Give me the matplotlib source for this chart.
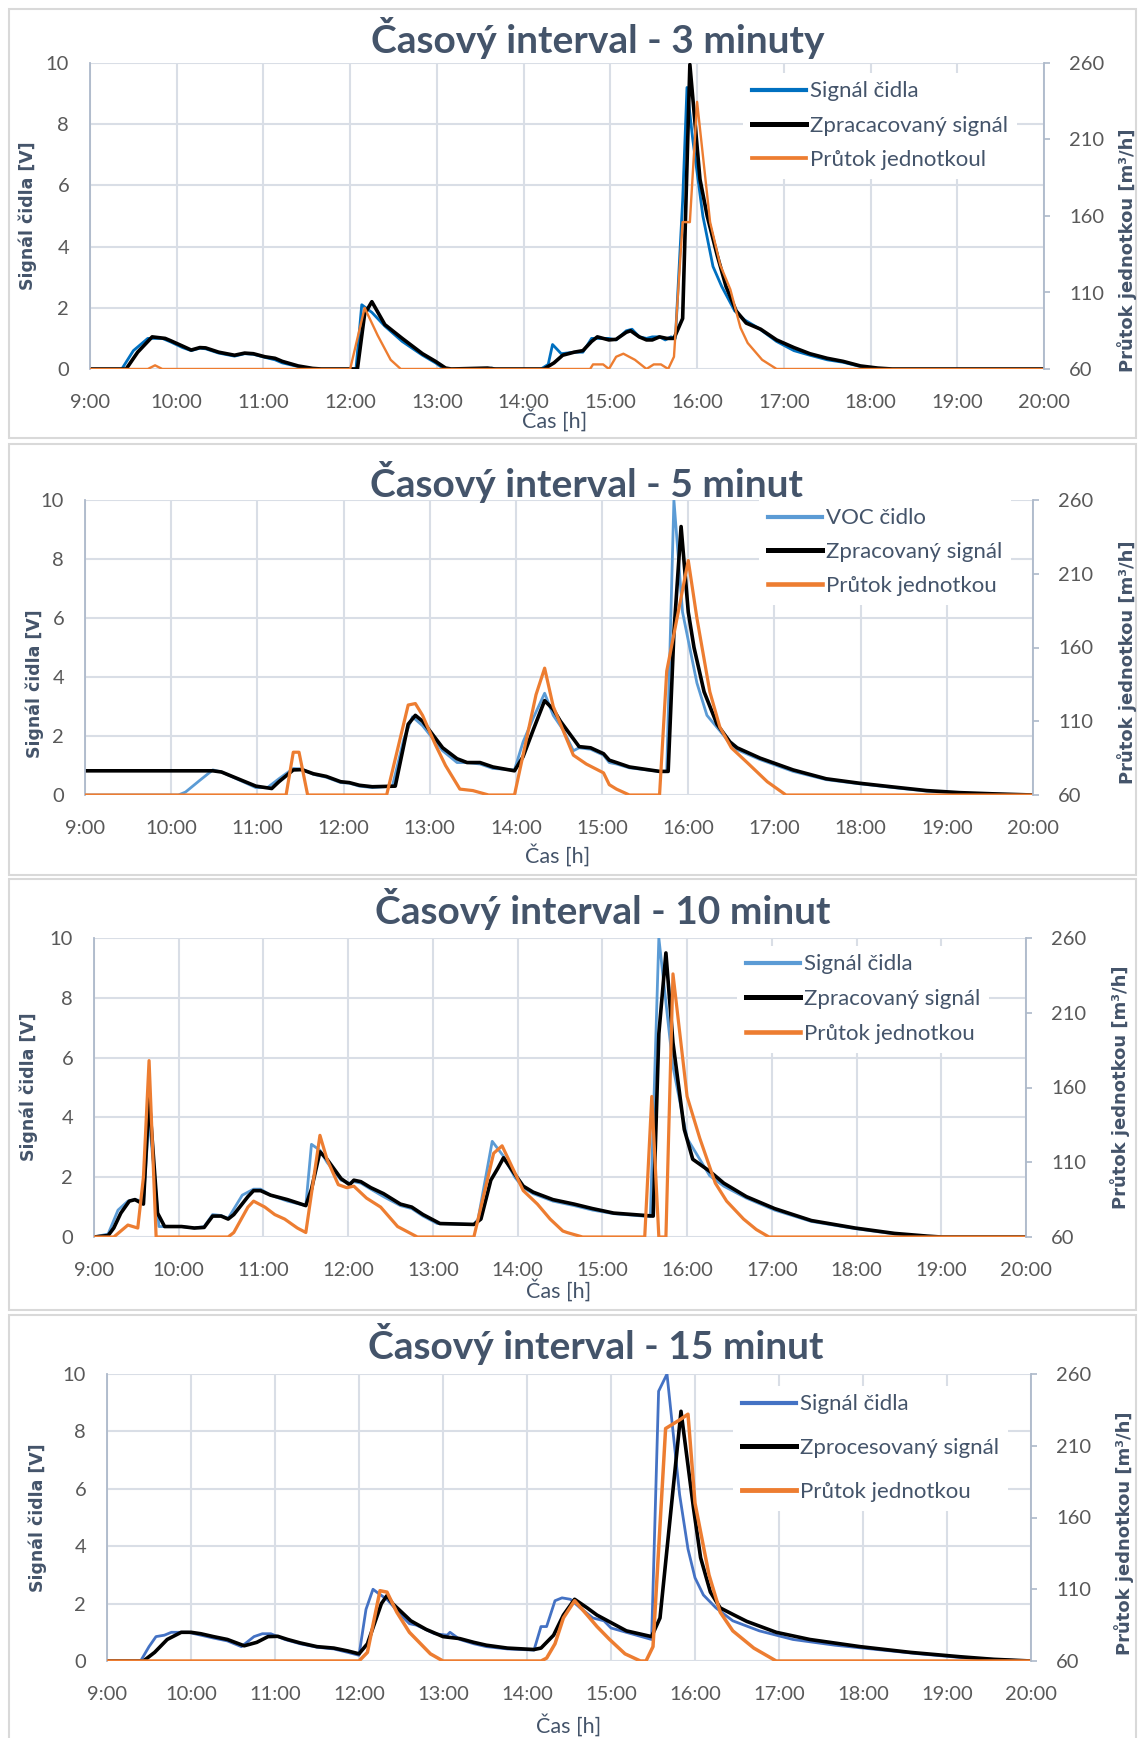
import matplotlib
matplotlib.use("Agg")
import matplotlib.pyplot as plt
from matplotlib.patches import Rectangle

plt.rcParams['font.family'] = ['Lato', 'DejaVu Sans']

# (time, value) pairs; sensor / processed signal in V, flow in m3/h
p1_sensor = [("9:00", 0), ("9:22", 0), ("9:30", 0.6), ("9:40", 1.0), ("9:50", 1.0), ("9:56", 0.88),
             ("10:04", 0.7), ("10:10", 0.6), ("10:16", 0.68), ("10:20", 0.66), ("10:29", 0.52),
             ("10:40", 0.42), ("10:47", 0.5), ("10:53", 0.48), ("11:01", 0.38), ("11:08", 0.3),
             ("11:13", 0.2), ("11:24", 0.08), ("11:34", 0), ("12:04", 0), ("12:08", 2.1),
             ("12:15", 1.85), ("12:24", 1.4), ("12:36", 0.9), ("12:50", 0.45), ("12:59", 0.2),
             ("13:05", 0), ("13:35", 0), ("13:38", 0.03), ("13:41", 0), ("14:12", 0), ("14:17", 0.15),
             ("14:20", 0.8), ("14:26", 0.5), ("14:35", 0.55), ("14:41", 0.55), ("14:47", 1.0),
             ("14:53", 1.0), ("14:59", 1.0), ("15:04", 0.95), ("15:11", 1.25), ("15:15", 1.3),
             ("15:20", 1.05), ("15:25", 1.0), ("15:29", 1.05), ("15:34", 1.05), ("15:38", 0.95),
             ("15:42", 1.05), ("15:45", 1.0), ("15:50", 5.5), ("15:53", 9.2), ("15:57", 7.5),
             ("16:04", 5.0), ("16:11", 3.35), ("16:17", 2.7), ("16:26", 1.9), ("16:33", 1.6),
             ("16:42", 1.35), ("16:55", 0.9), ("17:07", 0.6), ("17:18", 0.45), ("17:30", 0.3),
             ("17:41", 0.22), ("17:53", 0.08), ("18:05", 0.02), ("18:15", 0), ("20:00", 0)]
p1_proc = [("9:00", 0), ("9:25", 0), ("9:33", 0.55), ("9:43", 1.05), ("9:52", 1.0), ("9:56", 0.92),
           ("10:04", 0.75), ("10:10", 0.62), ("10:16", 0.7), ("10:20", 0.69), ("10:29", 0.55),
           ("10:40", 0.45), ("10:47", 0.52), ("10:53", 0.5), ("11:01", 0.4), ("11:08", 0.35),
           ("11:13", 0.25), ("11:24", 0.1), ("11:34", 0.02), ("11:40", 0), ("12:05", 0),
           ("12:10", 1.8), ("12:15", 2.2), ("12:24", 1.45), ("12:36", 1.0), ("12:50", 0.5),
           ("12:59", 0.25), ("13:06", 0.03), ("13:10", 0), ("13:35", 0.03), ("13:40", 0),
           ("14:14", 0), ("14:21", 0.2), ("14:27", 0.45), ("14:35", 0.55), ("14:41", 0.6),
           ("14:47", 0.9), ("14:51", 1.05), ("14:59", 0.95), ("15:04", 0.97), ("15:11", 1.2),
           ("15:14", 1.25), ("15:20", 1.05), ("15:25", 0.95), ("15:29", 0.95), ("15:34", 1.05),
           ("15:39", 1.0), ("15:44", 1.0), ("15:50", 1.65), ("15:55", 9.95), ("16:02", 6.2),
           ("16:07", 5.0), ("16:14", 3.7), ("16:20", 2.7), ("16:27", 1.9), ("16:34", 1.5),
           ("16:44", 1.3), ("16:55", 0.95), ("17:07", 0.7), ("17:18", 0.5), ("17:30", 0.35),
           ("17:41", 0.25), ("17:53", 0.1), ("18:05", 0.03), ("18:15", 0), ("20:00", 0)]
p1_flow = [("9:00", 60), ("9:40", 60), ("9:45", 62.4), ("9:50", 60), ("12:00", 60), ("12:10", 100),
           ("12:19", 82), ("12:28", 66), ("12:35", 60), ("14:46", 60), ("14:48", 63), ("14:55", 63),
           ("14:59", 60), ("15:04", 68), ("15:09", 70), ("15:17", 66), ("15:25", 60), ("15:30", 63),
           ("15:35", 63), ("15:40", 60), ("15:44", 68), ("15:50", 156), ("15:55", 156),
           ("16:00", 234.6), ("16:09", 156), ("16:16", 128), ("16:23", 112), ("16:30", 87),
           ("16:35", 77), ("16:45", 66), ("16:55", 60), ("20:00", 60)]

p2_sensor = [("9:00", 0), ("10:05", 0), ("10:10", 0.1), ("10:20", 0.5), ("10:29", 0.85), ("10:35", 0.78),
             ("10:59", 0.25), ("11:07", 0.25), ("11:15", 0.55), ("11:25", 0.9), ("11:31", 0.88),
             ("11:39", 0.7), ("11:48", 0.6), ("11:58", 0.42), ("12:04", 0.4), ("12:11", 0.3),
             ("12:20", 0.25), ("12:34", 0.3), ("12:42", 1.9), ("12:48", 2.65), ("12:55", 2.35),
             ("13:09", 1.5), ("13:19", 1.1), ("13:26", 1.1), ("13:35", 1.05), ("13:44", 0.9),
             ("13:59", 0.85), ("14:05", 1.8), ("14:12", 2.6), ("14:20", 3.45), ("14:26", 2.7),
             ("14:33", 2.2), ("14:40", 1.5), ("14:44", 1.6), ("14:52", 1.55), ("15:01", 1.35),
             ("15:05", 1.1), ("15:10", 1.05), ("15:19", 0.92), ("15:40", 0.8), ("15:45", 0.8),
             ("15:50", 10.0), ("15:56", 6.2), ("16:06", 3.8), ("16:13", 2.7), ("16:25", 2.0),
             ("16:31", 1.6), ("16:50", 1.2), ("17:13", 0.8), ("17:36", 0.52), ("17:59", 0.38),
             ("18:23", 0.25), ("18:46", 0.13), ("19:09", 0.07), ("19:32", 0.03), ("20:00", 0)]
p2_proc = [("9:00", 0.82), ("10:29", 0.82), ("10:35", 0.78), ("10:59", 0.3), ("11:10", 0.22),
           ("11:15", 0.45), ("11:25", 0.85), ("11:31", 0.86), ("11:39", 0.72), ("11:48", 0.63),
           ("11:58", 0.45), ("12:04", 0.42), ("12:11", 0.33), ("12:20", 0.28), ("12:36", 0.3),
           ("12:45", 2.4), ("12:50", 2.7), ("12:55", 2.5), ("13:09", 1.6), ("13:19", 1.23),
           ("13:26", 1.1), ("13:35", 1.1), ("13:44", 0.95), ("13:59", 0.82), ("14:05", 1.3),
           ("14:12", 2.2), ("14:20", 3.2), ("14:26", 2.9), ("14:31", 2.5), ("14:44", 1.64),
           ("14:52", 1.6), ("15:01", 1.4), ("15:05", 1.18), ("15:10", 1.1), ("15:19", 0.95),
           ("15:40", 0.8), ("15:46", 0.8), ("15:50", 5.5), ("15:55", 9.1), ("16:00", 6.2),
           ("16:04", 5.0), ("16:11", 3.5), ("16:20", 2.4), ("16:29", 1.8), ("16:34", 1.6),
           ("16:50", 1.25), ("17:13", 0.85), ("17:36", 0.55), ("17:59", 0.4), ("18:23", 0.27),
           ("18:46", 0.15), ("19:09", 0.08), ("19:32", 0.04), ("20:00", 0)]
p2_flow = [("9:00", 60), ("11:20", 60), ("11:25", 89), ("11:29", 89), ("11:35", 60), ("12:30", 60),
           ("12:45", 121), ("12:50", 122), ("12:55", 114), ("13:04", 94), ("13:11", 80),
           ("13:21", 64), ("13:30", 63), ("13:41", 60), ("13:59", 60), ("14:14", 128),
           ("14:20", 146), ("14:26", 120), ("14:40", 87), ("14:49", 81), ("15:01", 75),
           ("15:05", 67), ("15:10", 64), ("15:19", 60), ("15:40", 60), ("15:45", 144),
           ("16:00", 219), ("16:06", 180), ("16:15", 130), ("16:22", 106), ("16:30", 92),
           ("16:41", 82), ("16:55", 69), ("17:08", 60), ("20:00", 60)]

p3_sensor = [("9:00", 0), ("9:10", 0.1), ("9:17", 0.9), ("9:24", 1.2), ("9:29", 1.25), ("9:35", 1.2),
             ("9:39", 4.0), ("9:46", 0.35), ("10:02", 0.35), ("10:11", 0.3), ("10:18", 0.35),
             ("10:24", 0.75), ("10:30", 0.72), ("10:35", 0.62), ("10:45", 1.4), ("10:53", 1.6),
             ("10:58", 1.6), ("11:05", 1.4), ("11:17", 1.2), ("11:30", 1.05), ("11:34", 3.1),
             ("11:40", 2.9), ("11:45", 2.5), ("11:55", 1.9), ("12:01", 1.8), ("12:04", 1.85),
             ("12:09", 1.8), ("12:16", 1.6), ("12:25", 1.35), ("12:37", 1.05), ("12:45", 0.95),
             ("12:53", 0.7), ("13:03", 0.45), ("13:29", 0.42), ("13:32", 0.6), ("13:42", 3.2),
             ("13:50", 2.7), ("13:58", 2.0), ("14:04", 1.65), ("14:11", 1.45), ("14:25", 1.2),
             ("14:40", 1.05), ("14:53", 0.9), ("15:08", 0.78), ("15:34", 0.68), ("15:40", 10.0),
             ("15:50", 5.7), ("16:00", 3.3), ("16:16", 2.05), ("16:26", 1.7), ("16:42", 1.3),
             ("17:02", 0.9), ("17:28", 0.52), ("17:59", 0.28), ("18:27", 0.1), ("18:50", 0.02),
             ("19:00", 0), ("20:00", 0)]
p3_proc = [("9:00", 0), ("9:10", 0.05), ("9:14", 0.3), ("9:19", 0.8), ("9:25", 1.2), ("9:29", 1.25),
           ("9:35", 1.1), ("9:39", 4.7), ("9:45", 0.8), ("9:50", 0.35), ("10:02", 0.35),
           ("10:11", 0.3), ("10:18", 0.32), ("10:24", 0.7), ("10:30", 0.7), ("10:35", 0.6),
           ("10:39", 0.75), ("10:49", 1.35), ("10:53", 1.55), ("10:58", 1.55), ("11:05", 1.4),
           ("11:17", 1.25), ("11:30", 1.05), ("11:34", 1.6), ("11:40", 2.85), ("11:45", 2.6),
           ("11:55", 1.95), ("12:01", 1.75), ("12:04", 1.9), ("12:09", 1.85), ("12:16", 1.65),
           ("12:25", 1.45), ("12:37", 1.1), ("12:45", 1.0), ("12:53", 0.75), ("13:03", 0.5),
           ("13:05", 0.45), ("13:29", 0.42), ("13:34", 0.6), ("13:41", 1.9), ("13:46", 2.3),
           ("13:50", 2.65), ("13:58", 2.1), ("14:04", 1.7), ("14:11", 1.5), ("14:25", 1.25),
           ("14:40", 1.1), ("14:53", 0.95), ("15:08", 0.8), ("15:36", 0.7), ("15:40", 6.8),
           ("15:45", 9.5), ("15:50", 6.5), ("15:58", 3.6), ("16:04", 2.6), ("16:16", 2.2),
           ("16:26", 1.8), ("16:42", 1.35), ("17:02", 0.95), ("17:28", 0.55), ("17:59", 0.3),
           ("18:27", 0.12), ("18:50", 0.03), ("19:00", 0), ("20:00", 0)]
p3_flow = [("9:00", 60), ("9:14", 60), ("9:24", 68), ("9:31", 66), ("9:35", 100), ("9:39", 178),
           ("9:44", 60), ("10:35", 60), ("10:39", 63), ("10:49", 80), ("10:53", 84), ("11:01", 80),
           ("11:08", 75), ("11:15", 72), ("11:24", 66), ("11:30", 63), ("11:40", 128),
           ("11:45", 112), ("11:53", 95), ("11:59", 93), ("12:04", 94), ("12:13", 86),
           ("12:23", 80), ("12:35", 67), ("12:49", 60), ("13:29", 60), ("13:43", 116),
           ("13:49", 121), ("14:04", 91), ("14:14", 82), ("14:23", 72), ("14:32", 64),
           ("14:35", 63), ("14:46", 60), ("15:30", 60), ("15:35", 154), ("15:40", 60),
           ("15:45", 60), ("15:50", 236), ("16:00", 154), ("16:09", 126), ("16:20", 96),
           ("16:28", 84), ("16:40", 72), ("16:49", 65), ("16:58", 60), ("20:00", 60)]

p4_sensor = [("9:00", 0), ("9:24", 0), ("9:30", 0.5), ("9:35", 0.85), ("9:41", 0.9), ("9:46", 1.0),
             ("9:58", 1.0), ("10:07", 0.9), ("10:16", 0.8), ("10:26", 0.7), ("10:36", 0.5),
             ("10:45", 0.85), ("10:51", 0.95), ("10:57", 0.95), ("11:07", 0.75), ("11:18", 0.6),
             ("11:30", 0.48), ("11:42", 0.42), ("11:52", 0.3), ("12:00", 0.2), ("12:05", 1.8),
             ("12:10", 2.5), ("12:14", 2.35), ("12:20", 2.15), ("12:30", 1.6), ("12:36", 1.3),
             ("12:41", 1.25), ("12:54", 0.95), ("13:03", 0.9), ("13:05", 1.0), ("13:12", 0.75),
             ("13:22", 0.6), ("13:31", 0.5), ("13:46", 0.42), ("14:05", 0.38), ("14:10", 1.2),
             ("14:14", 1.2), ("14:20", 2.1), ("14:25", 2.2), ("14:31", 2.15), ("14:38", 1.85),
             ("14:47", 1.5), ("14:55", 1.4), ("15:00", 1.15), ("15:29", 0.75), ("15:34", 9.4),
             ("15:40", 10.0), ("15:49", 5.8), ("15:55", 3.9), ("16:00", 2.9), ("16:06", 2.3),
             ("16:15", 1.85), ("16:27", 1.4), ("16:46", 1.05), ("17:10", 0.75), ("17:40", 0.55),
             ("18:10", 0.4), ("18:40", 0.25), ("19:10", 0.12), ("19:40", 0.04), ("20:00", 0)]
p4_proc = [("9:00", 0), ("9:26", 0), ("9:34", 0.3), ("9:43", 0.75), ("9:53", 1.0), ("10:00", 1.0),
           ("10:07", 0.95), ("10:16", 0.85), ("10:26", 0.75), ("10:38", 0.53), ("10:47", 0.65),
           ("10:55", 0.85), ("11:02", 0.86), ("11:09", 0.75), ("11:18", 0.63), ("11:30", 0.5),
           ("11:42", 0.45), ("11:52", 0.35), ("12:00", 0.25), ("12:06", 0.6), ("12:16", 2.0),
           ("12:20", 2.28), ("12:24", 2.0), ("12:37", 1.4), ("12:48", 1.1), ("13:00", 0.85),
           ("13:12", 0.78), ("13:22", 0.65), ("13:31", 0.55), ("13:46", 0.45), ("14:05", 0.4),
           ("14:10", 0.45), ("14:19", 0.9), ("14:26", 1.6), ("14:34", 2.15), ("14:43", 1.85),
           ("14:50", 1.6), ("15:11", 1.05), ("15:29", 0.85), ("15:35", 1.5), ("15:50", 8.7),
           ("15:59", 5.3), ("16:04", 3.6), ("16:11", 2.4), ("16:18", 1.85), ("16:28", 1.6),
           ("16:37", 1.38), ("16:58", 1.0), ("17:22", 0.75), ("17:58", 0.5), ("18:34", 0.3),
           ("19:09", 0.15), ("19:33", 0.06), ("20:00", 0)]
p4_flow = [("9:00", 60), ("12:00", 60), ("12:06", 66), ("12:15", 109), ("12:20", 108), ("12:27", 94),
           ("12:36", 80), ("12:44", 72), ("12:51", 65), ("13:00", 60), ("14:10", 60), ("14:14", 62),
           ("14:20", 72), ("14:26", 90), ("14:34", 102), ("14:43", 92), ("14:50", 84),
           ("14:59", 75), ("15:10", 65), ("15:21", 60), ("15:25", 60), ("15:30", 70),
           ("15:39", 222), ("15:49", 228), ("15:55", 232), ("16:00", 170), ("16:10", 120),
           ("16:18", 94), ("16:27", 81), ("16:42", 69), ("16:58", 60), ("20:00", 60)]

titles = ["Časový interval - 3 minuty", "Časový interval - 5 minut",
          "Časový interval - 10 minut", "Časový interval - 15 minut"]
legend_labels = [["Signál čidla", "Zpracacovaný signál", "Průtok jednotkoul"],
                 ["VOC čidlo", "Zpracovaný signál", "Průtok jednotkou"],
                 ["Signál čidla", "Zpracovaný signál", "Průtok jednotkou"],
                 ["Signál čidla", "Zprocesovaný signál", "Průtok jednotkou"]]
hours = list(range(9, 21))
hour_labels = [f"{h}:00" for h in hours]
volt_ticks = [0, 2, 4, 6, 8, 10]
flow_ticks = [60, 110, 160, 210, 260]

W, H = 1139, 1738
TITLE_C = '#44546A'
TICK_C = '#595959'
GRID_C = '#D9DEE6'
AXIS_C = '#ADB9CA'
ORANGE = '#ED7D31'
LEG_FS = 16


def split(pairs):
    t = [int(s.split(':')[0]) + int(s.split(':')[1]) / 60 for s, _ in pairs]
    v = [val for _, val in pairs]
    return t, v


def fx(x):
    return x / W


def fy(y):
    return 1 - y / H


# pixel layout of each panel; leg = (handle x, first row centre y, row gap)
layout = [
    dict(box=(9, 9, 1136, 438), ax=(90, 63, 1044, 369), title=(598, 53), xlab=(555, 428),
         ylab=(28, 216), y2lab=(1127, 250), leg=(752, 91, 33.2), blue='#0070C0', olw=1.7),
    dict(box=(9, 444, 1136, 875), ax=(85, 500, 1033, 795), title=(586, 497), xlab=(558, 863),
         ylab=(35, 684), y2lab=(1127, 662), leg=(768, 518, 32.7), blue='#5B9BD5', olw=2.3),
    dict(box=(9, 879, 1136, 1310), ax=(94, 938, 1026, 1237), title=(603, 924), xlab=(559, 1298),
         ylab=(29, 1087), y2lab=(1120, 1087), leg=(746, 964, 33.8), blue='#5B9BD5', olw=2.3),
    dict(box=(9, 1315, 1136, 1750), ax=(107, 1374, 1031, 1661), title=(596, 1359), xlab=(569, 1733),
         ylab=(38, 1518), y2lab=(1124, 1533), leg=(742, 1404, 42.7), blue='#4472C4', olw=2.5),
]
series = [(p1_sensor, p1_proc, p1_flow), (p2_sensor, p2_proc, p2_flow),
          (p3_sensor, p3_proc, p3_flow), (p4_sensor, p4_proc, p4_flow)]

fig = plt.figure(figsize=(W / 100, H / 100), dpi=100)
fs_px = LEG_FS * 100 / 72
row_h = 0.86 * fs_px
bpad = 0.4

for i, lay in enumerate(layout):
    bl, bt, br, bb = lay['box']
    fig.add_artist(Rectangle((fx(bl), fy(bb)), fx(br - bl), (bb - bt) / H,
                             transform=fig.transFigure, fill=False,
                             edgecolor='#D9D9D9', lw=1.5))

    l, t, r, b = lay['ax']
    ax = fig.add_axes([fx(l), fy(b), fx(r - l), (b - t) / H])
    ax2 = ax.twinx()

    sensor, proc, flow = series[i]
    st, sv = split(sensor)
    pt, pv = split(proc)
    ft, fv = split(flow)
    h1, = ax.plot(st, sv, color=lay['blue'], lw=2.0, solid_joinstyle='round')
    h2, = ax.plot(pt, pv, color='black', lw=2.6, solid_joinstyle='round')
    h3, = ax2.plot(ft, fv, color=ORANGE, lw=lay['olw'], solid_joinstyle='round')

    ax.set_xlim(9, 20)
    ax.set_ylim(0, 10)
    ax2.set_ylim(60, 260)
    ax.set_xticks(hours)
    ax.set_xticklabels(hour_labels)
    ax.set_yticks(volt_ticks)
    ax2.set_yticks(flow_ticks)

    ax.set_axisbelow(True)
    ax.grid(True, color=GRID_C, lw=1.5)
    for s in ['top', 'right', 'bottom']:
        ax.spines[s].set_visible(False)
    for s in ['top', 'left', 'bottom']:
        ax2.spines[s].set_visible(False)
    ax.spines['left'].set_color(AXIS_C)
    ax.spines['left'].set_linewidth(1.3)
    ax2.spines['right'].set_color(AXIS_C)
    ax2.spines['right'].set_linewidth(1.3)

    ax.tick_params(axis='x', length=0, labelsize=14.5, labelcolor=TICK_C, pad=18)
    ax.tick_params(axis='y', length=0, labelsize=14.5, labelcolor=TICK_C, pad=15)
    ax2.tick_params(axis='y', length=4, width=1.2, color=AXIS_C, labelsize=14.5,
                    labelcolor=TICK_C, pad=14)

    tx, ty = lay['title']
    fig.text(fx(tx), fy(ty), titles[i], ha='center', va='baseline', fontsize=28,
             fontweight='bold', color=TITLE_C)
    xx, xy = lay['xlab']
    fig.text(fx(xx), fy(xy), "Čas [h]", ha='center', va='baseline', fontsize=15.5,
             color=TITLE_C)
    yx, yy = lay['ylab']
    fig.text(fx(yx), fy(yy), "Signál čidla [V]", ha='center', va='center', rotation=90,
             fontsize=12.5, fontweight='bold', color=TITLE_C, family='DejaVu Sans')
    rx, ry = lay['y2lab']
    fig.text(fx(rx), fy(ry), "Průtok jednotkou [m³/h]", ha='center', va='center', rotation=90,
             fontsize=13, fontweight='bold', color=TITLE_C, family='DejaVu Sans')

    hx, c1, gap = lay['leg']
    top = c1 - row_h / 2 - bpad * fs_px
    leg = ax2.legend([h1, h2, h3], legend_labels[i], loc='upper left',
                     bbox_to_anchor=(fx(hx - bpad * fs_px), fy(top)),
                     bbox_transform=fig.transFigure, borderaxespad=0, fontsize=LEG_FS,
                     handlelength=2.45, handletextpad=0.15,
                     labelspacing=(gap - row_h) / fs_px, borderpad=bpad,
                     frameon=True, facecolor='white', edgecolor='none', framealpha=1,
                     fancybox=False, labelcolor=TITLE_C)
    for line in leg.get_lines():
        line.set_linewidth(line.get_linewidth() + 1.0)

fig.savefig("out.png", dpi=100, facecolor='white')
